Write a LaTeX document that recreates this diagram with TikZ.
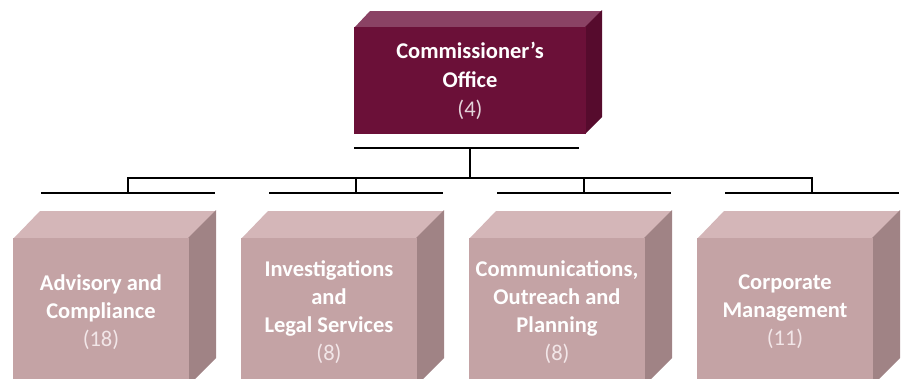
\documentclass[tikz,border=0pt]{standalone}
\usepackage{fontspec}
\setmainfont{Carlito}
\usetikzlibrary{calc,positioning,backgrounds}
\definecolor{officefront}{HTML}{6B1038}
\definecolor{officetop}{HTML}{8A4264}
\definecolor{officeside}{HTML}{560B2D}
\definecolor{officecount}{HTML}{E3D3DA}
\definecolor{unitfront}{HTML}{C4A3A5}
\definecolor{unittop}{HTML}{D4B6B8}
\definecolor{unitside}{HTML}{A08385}
\definecolor{unitcount}{HTML}{F2E6E8}
\tikzset{link/.style={draw=black,line width=2pt}}

\begin{document}
\begin{tikzpicture}[x=1pt,y=-1pt,every node/.style={outer sep=0pt}]
  \useasboundingbox (0,0) rectangle (901,378);
  \node[fill=officefront,minimum width=232pt,minimum height=107pt,inner sep=0pt,text=white,align=center,font=\fontsize{22.5}{29}\selectfont\bfseries] (comm) at (470,80.5) {Commissioner’s\\Office\\{\mdseries\color{officecount}(4)}};
  \begin{pgfonlayer}{background}
    \fill[officetop] ([yshift=-1pt]comm.north west) -- ++(16,-17) -- ++(232,0) -- ([yshift=-1pt]comm.north east) -- cycle;
    \fill[officeside] ([xshift=-1pt]comm.north east) -- ++(17,-17) -- ++(0,107) -- ([xshift=-1pt]comm.south east) -- cycle;
  \end{pgfonlayer}

  \begin{scope}[every node/.style={fill=unitfront,minimum width=176pt,minimum height=148pt,inner sep=0pt,outer sep=0pt,text=white,align=center,font=\fontsize{22.5}{28}\selectfont\bfseries,node distance=52pt}]
    \node (adv) at (101,312) {Advisory and\\Compliance\\{\mdseries\color{unitcount}(18)}};
    \node[right=of adv] (inv) {Investigations\\and\\Legal Services\\{\mdseries\color{unitcount}(8)}};
    \node[right=of inv] (comms) {Communications,\\Outreach and\\Planning\\{\mdseries\color{unitcount}(8)}};
    \node[right=of comms] (corp) {Corporate\\Management\\{\mdseries\color{unitcount}(11)}};
  \end{scope}

  \foreach \b in {adv,inv,comms,corp} {
    \begin{pgfonlayer}{background}
      \fill[unittop] ([yshift=-1pt]\b.north west) -- ++(27,-28) -- ++(176,0) -- ([yshift=-1pt]\b.north east) -- cycle;
      \fill[unitside] ([xshift=-1pt]\b.north east) -- ++(28,-28) -- ++(0,148) -- ([xshift=-1pt]\b.south east) -- cycle;
    \end{pgfonlayer}
    \coordinate (\b-l) at ($(\b.north west)+(28,-45)$);
    \coordinate (\b-r) at ($(\b.north east)+(26,-45)$);
    \coordinate (\b-m) at ($(\b-l)!.5!(\b-r)$);
    \draw[link] (\b-l) -- (\b-r);
  }

  % connectors
  \coordinate (comm-l) at ($(comm.south west)+(0,14)$);
  \coordinate (comm-r) at ($(comm.south east)+(-7,14)$);
  \coordinate (hub) at ($(comm.south)+(0,44)$);
  \draw[link] (comm-l) -- (comm-r);
  \draw[link] (comm.south |- comm-l) -- (hub);
  \draw[link] (adv-m) -- (adv-m |- hub) -- (corp-m |- hub) -- (corp-m);
  \draw[link] (inv-m) -- (inv-m |- hub);
  \draw[link] (comms-m) -- (comms-m |- hub);
\end{tikzpicture}
\end{document}
